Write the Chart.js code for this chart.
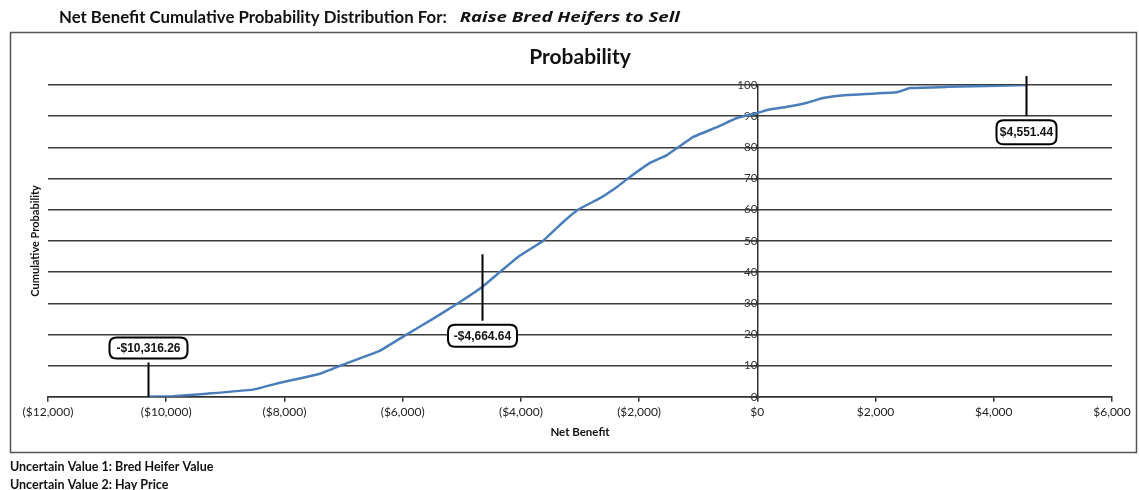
<!DOCTYPE html>
<html>
<head>
<meta charset="utf-8">
<script src="https://cdn.jsdelivr.net/npm/chart.js@4.4.1/dist/chart.umd.min.js"></script>
<style>
  html, body { margin: 0; padding: 0; background: #fff; }
  #wrap { width: 1139px; height: 490px; position: relative; }
</style>
</head>
<body>
<div id="wrap"><canvas id="grafico-cdf"></canvas></div>
<script>
// valores
var netBenefit = [-10316, -9884, -9311, -8533, -8076, -7399, -7009, -6383, -5950, -5489, -5066, -4643, -4355, -4016, -3627, -3289, -3035, -2662, -2375, -2155, -1816, -1528, -1342, -1088, -682, -343, 0, 164, 503, 841, 1111, 1517, 2363, 2583, 3209, 4551];
var cumProb = [0, 0.2, 1, 2.3, 4.5, 7.4, 10.3, 14.8, 19.8, 25, 30, 35.4, 40, 45.3, 50, 56, 60, 63.7, 67.3, 70.5, 75, 77.5, 80, 83.3, 86.5, 89.4, 91, 92, 93, 94.3, 95.8, 96.8, 97.7, 99, 99.4, 100];
var xTicks = [-12000, -10000, -8000, -6000, -4000, -2000, 0, 2000, 4000, 6000];
var yTicks = [0, 10, 20, 30, 40, 50, 60, 70, 80, 90, 100];
var markerValues = [-10316.26, -4664.64, 4551.44];

var fonteBase = 'Lato, "Open Sans", sans-serif';

function formatarDolar(v) {
    var s = '$' + Math.abs(v).toLocaleString('en-US');
    return v < 0 ? '(' + s + ')' : s;
}

function formatarMarcador(v) {
    var s = '$' + Math.abs(v).toLocaleString('en-US', { minimumFractionDigits: 2, maximumFractionDigits: 2 });
    return v < 0 ? '-' + s : s;
}

// estilo das caixas de marcador (topo/base da linha em % e lado da caixa)
var estiloMarcador = [
    { top: 11, bottom: 0, lado: 'acima', w: 78, h: 21 },
    { top: 45.7, bottom: 24.4, lado: 'abaixo', w: 69, h: 22 },
    { top: 102.9, bottom: 90, lado: 'abaixo', w: 60, h: 24 }
];

function caixaArredondada(ctx, x, y, w, h, r) {
    ctx.beginPath();
    ctx.moveTo(x + r, y);
    ctx.lineTo(x + w - r, y);
    ctx.quadraticCurveTo(x + w, y, x + w, y + r);
    ctx.lineTo(x + w, y + h - r);
    ctx.quadraticCurveTo(x + w, y + h, x + w - r, y + h);
    ctx.lineTo(x + r, y + h);
    ctx.quadraticCurveTo(x, y + h, x, y + h - r);
    ctx.lineTo(x, y + r);
    ctx.quadraticCurveTo(x, y, x + r, y);
    ctx.closePath();
}

var extras = {
    id: 'extras',
    afterDraw: function (chart) {
        var ctx = chart.ctx;
        var area = chart.chartArea;
        var sx = chart.scales.x, sy = chart.scales.y;
        ctx.save();

        // moldura
        ctx.strokeStyle = '#555';
        ctx.lineWidth = 1.5;
        ctx.strokeRect(10.5, 32.5, 1126, 420);

        // cabecalho
        ctx.fillStyle = '#111';
        ctx.textBaseline = 'middle';
        ctx.textAlign = 'left';
        ctx.font = 'bold 16.8px ' + fonteBase;
        var t1 = 'Net Benefit Cumulative Probability Distribution For:';
        var larg = Math.min(ctx.measureText(t1).width, 388);
        ctx.fillText(t1, 59, 18, 388);
        ctx.font = 'italic bold 15px "Open Sans", sans-serif';
        var t2 = 'Raise Bred Heifers to Sell';
        var esc = Math.min(220 / ctx.measureText(t2).width, 1.25);
        ctx.save();
        ctx.translate(59 + larg + 13, 18);
        ctx.scale(esc, 1);
        ctx.fillText(t2, 0, 0);
        ctx.restore();

        // titulo
        ctx.textAlign = 'center';
        ctx.font = 'bold 21px ' + fonteBase;
        ctx.fillText('Probability', (area.left + area.right) / 2, 57);

        // titulo eixo y
        ctx.save();
        ctx.translate(35, (area.top + area.bottom) / 2);
        ctx.rotate(-Math.PI / 2);
        ctx.font = 'bold 11px ' + fonteBase;
        ctx.fillText('Cumulative Probability', 0, 0);
        ctx.restore();

        // rodape
        ctx.textAlign = 'left';
        ctx.font = 'bold 12.5px ' + fonteBase;
        ctx.fillText('Uncertain Value 1: Bred Heifer Value', 10, 467, 208);
        ctx.fillText('Uncertain Value 2: Hay Price', 10, 485, 160);

        // marcadores
        markerValues.forEach(function (v, i) {
            var e = estiloMarcador[i];
            var px = Math.round(sx.getPixelForValue(v)) + 0.5;
            var yTop = sy.getPixelForValue(e.top);
            var yBot = sy.getPixelForValue(e.bottom);
            ctx.strokeStyle = '#000';
            ctx.lineWidth = 2;
            ctx.beginPath();
            ctx.moveTo(px, yTop);
            ctx.lineTo(px, yBot);
            ctx.stroke();
            var by = e.lado === 'acima' ? yTop - 4 - e.h : yBot + 4;
            caixaArredondada(ctx, px - e.w / 2, by, e.w, e.h, 7);
            ctx.fillStyle = '#fff';
            ctx.fill();
            ctx.stroke();
            ctx.fillStyle = '#111';
            ctx.textAlign = 'center';
            ctx.font = 'bold 12px "Liberation Sans", Arial, sans-serif';
            ctx.fillText(formatarMarcador(v), px, by + e.h / 2 + 1);
        });

        ctx.restore();
    }
};

function inicializarGrafico() {
    var pontos = netBenefit.map(function (x, i) { return { x: x, y: cumProb[i] }; });

    new Chart(document.getElementById('grafico-cdf').getContext('2d'), {
        type: 'line',
        data: {
            datasets: [{
                label: 'Cumulative Probability',
                data: pontos,
                borderColor: '#4a7ebb',
                borderWidth: 2.5,
                pointRadius: 0,
                tension: 0.1,
                fill: false
            }]
        },
        plugins: [extras],
        options: {
            responsive: true,
            maintainAspectRatio: false,
            animation: false,
            layout: { padding: { left: 48, right: 27, top: 85, bottom: 51 } },
            plugins: {
                legend: { display: false },
                tooltip: { enabled: false }
            },
            scales: {
                x: {
                    type: 'linear',
                    min: xTicks[0],
                    max: xTicks[xTicks.length - 1],
                    afterBuildTicks: function (axis) {
                        axis.ticks = xTicks.map(function (v) { return { value: v }; });
                    },
                    ticks: {
                        callback: function (v) { return formatarDolar(v); },
                        color: '#222',
                        font: { family: fonteBase, size: 12 },
                        padding: 3,
                        maxRotation: 0,
                        autoSkip: false
                    },
                    grid: { drawOnChartArea: false, color: '#333', tickLength: 5, lineWidth: 1.5 },
                    border: { color: '#333', width: 1.5 },
                    title: {
                        display: true,
                        text: 'Net Benefit',
                        color: '#111',
                        font: { family: fonteBase, size: 11.5, weight: 'bold' },
                        padding: { top: 3, bottom: 0 }
                    }
                },
                y: {
                    type: 'linear',
                    position: { x: 0 },
                    min: 0,
                    max: 100,
                    afterBuildTicks: function (axis) {
                        axis.ticks = yTicks.map(function (v) { return { value: v }; });
                    },
                    ticks: {
                        color: '#333',
                        font: { family: fonteBase, size: 11.5 },
                        padding: 2
                    },
                    grid: { color: '#3c3c3c', lineWidth: 1.5, tickLength: 8 },
                    border: { color: '#333', width: 1.5 }
                }
            }
        }
    });
}

window.onload = inicializarGrafico;
</script>
</body>
</html>
